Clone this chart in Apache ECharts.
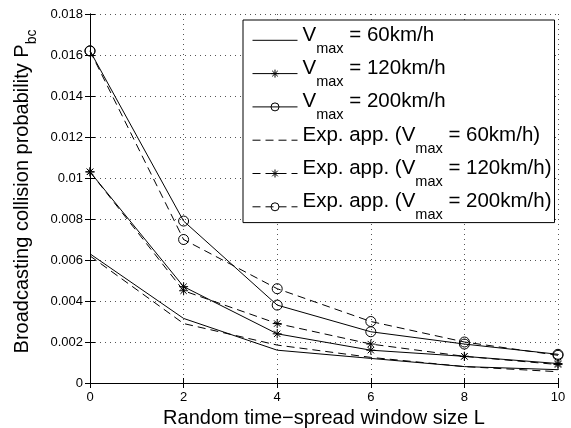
<!DOCTYPE html>
<html lang="en">
<head>
    <meta charset="UTF-8">
    <title>Broadcasting collision probability</title>
    <script src="https://cdn.jsdelivr.net/npm/echarts/dist/echarts.min.js"></script>
    <style>
        html, body { margin: 0; padding: 0; background: #fff; }
        #chart { width: 571px; height: 428px; }
    </style>
</head>
<body>
    <div id="chart"></div>
    <script>
        // window size L
        var xs = [0, 2, 4, 6, 8, 10];

        // simulation
        var v60 = [0.0063, 0.00315, 0.0016, 0.0012, 0.0008, 0.00065];
        var v120 = [0.0103, 0.0047, 0.0024, 0.0016, 0.0013, 0.00095];
        var v200 = [0.0162, 0.0079, 0.0038, 0.0025, 0.0019, 0.0014];

        // exponential approximation
        var e60 = [0.0062, 0.0029, 0.00185, 0.00125, 0.0008, 0.00055];
        var e120 = [0.0103, 0.0045, 0.0029, 0.0019, 0.0013, 0.0009];
        var e200 = [0.0162, 0.0070, 0.0046, 0.0030, 0.0020, 0.00135];

        var names = ['v60', 'v120', 'v200', 'e60', 'e120', 'e200'];
        var labels = {
            v60: '{v|V}{s|max}{v| = 60km/h}',
            v120: '{v|V}{s|max}{v| = 120km/h}',
            v200: '{v|V}{s|max}{v| = 200km/h}',
            e60: '{v|Exp. app. (V}{s|max}{v| = 60km/h)}',
            e120: '{v|Exp. app. (V}{s|max}{v| = 120km/h)}',
            e200: '{v|Exp. app. (V}{s|max}{v| = 200km/h)}'
        };

        var FONT = 'Liberation Sans, Arial, sans-serif';
        var STAR = 'path://M0,5 L10,5 M5,0 L5,10 M1.5,1.5 L8.5,8.5 M8.5,1.5 L1.5,8.5';

        function pairs(vals) {
            return xs.map(function (x, i) { return [x, vals[i]]; });
        }

        function mkSeries(name, vals, symbol, dashed) {
            return {
                name: name,
                type: 'line',
                data: pairs(vals),
                symbol: symbol || 'none',
                symbolSize: symbol === STAR ? 9 : 10,
                showSymbol: !!symbol,
                animation: false,
                lineStyle: { color: '#000', width: 1, type: dashed ? [8, 5] : 'solid' },
                itemStyle: { color: 'transparent', borderColor: '#000', borderWidth: 1 },
                z: 3
            };
        }

        // no marker -> hide the legend symbol
        var legendData = names.map(function (n) {
            if (n === 'v60' || n === 'e60') {
                return { name: n, itemStyle: { color: 'transparent', borderColor: 'transparent' } };
            }
            return { name: n };
        });

        var chart = echarts.init(document.getElementById('chart'));
        var axisCommon = {
            axisLine: { show: true, lineStyle: { color: '#000', width: 1 } },
            axisTick: { show: true, inside: true, length: 5, lineStyle: { color: '#000' } }
        };

        var option = {
            backgroundColor: '#fff',
            animation: false,
            grid: { left: 90, right: 13, top: 14, bottom: 45, containLabel: false, outerBoundsMode: 'none' },
            legend: {
                orient: 'vertical',
                left: 243,
                top: 20,
                data: legendData,
                itemWidth: 45,
                itemHeight: 10,
                itemGap: 1.7,
                padding: [4.5, 3, 0, 9],
                backgroundColor: '#fff',
                borderColor: '#000',
                borderWidth: 1,
                borderRadius: 0,
                lineStyle: { width: 1 },
                itemStyle: { borderWidth: 1 },
                formatter: function (n) { return labels[n]; },
                textStyle: {
                    color: '#000',
                    fontFamily: FONT,
                    fontSize: 20.5,
                    rich: {
                        v: { fontFamily: FONT, fontSize: 20.5, lineHeight: 21, padding: [0, 0, 10.6, 0], color: '#000' },
                        s: { fontFamily: FONT, fontSize: 14.5, lineHeight: 15, padding: [16.6, 0, 0, 0], color: '#000' }
                    }
                }
            },
            xAxis: [
                Object.assign({
                    type: 'value', min: 0, max: 10, interval: 2, position: 'bottom',
                    name: 'Random time\u2212spread window size L',
                    nameLocation: 'middle', nameGap: 21,
                    nameTextStyle: { color: '#000', fontFamily: FONT, fontSize: 20 },
                    axisLabel: { color: '#000', fontFamily: FONT, fontSize: 13, margin: 8 },
                    splitLine: { show: true, lineStyle: { color: '#555', type: [1, 4], width: 1 } }
                }, axisCommon),
                Object.assign({
                    type: 'value', min: 0, max: 10, interval: 2, position: 'top',
                    axisLabel: { show: false }, splitLine: { show: false }
                }, axisCommon)
            ],
            yAxis: [
                Object.assign({
                    type: 'value', min: 0, max: 0.018, interval: 0.002, position: 'left',
                    name: '{t|Broadcasting collision probability P}{s|bc}',
                    nameLocation: 'middle', nameGap: 42, nameRotate: 90,
                    nameTextStyle: {
                        color: '#000', fontFamily: FONT, fontSize: 20,
                        padding: [0, 0, 0, 14],
                        rich: {
                            t: { fontFamily: FONT, fontSize: 20, lineHeight: 20, padding: [0, 0, 7, 0], color: '#000' },
                            s: { fontFamily: FONT, fontSize: 14, lineHeight: 14, padding: [13, 0, 0, 0], color: '#000' }
                        }
                    },
                    axisLabel: {
                        color: '#000', fontFamily: FONT, fontSize: 13, margin: 7,
                        formatter: function (v) { return String(+v.toFixed(3)); }
                    },
                    splitLine: { show: true, lineStyle: { color: '#555', type: [1, 4], width: 1 } }
                }, axisCommon),
                Object.assign({
                    type: 'value', min: 0, max: 0.018, interval: 0.002, position: 'right',
                    axisLabel: { show: false }, splitLine: { show: false }
                }, axisCommon)
            ],
            series: [
                mkSeries('v60', v60, null, false),
                mkSeries('v120', v120, STAR, false),
                mkSeries('v200', v200, 'circle', false),
                mkSeries('e60', e60, null, true),
                mkSeries('e120', e120, STAR, true),
                mkSeries('e200', e200, 'circle', true)
            ]
        };
        chart.setOption(option);
    </script>
</body>
</html>
